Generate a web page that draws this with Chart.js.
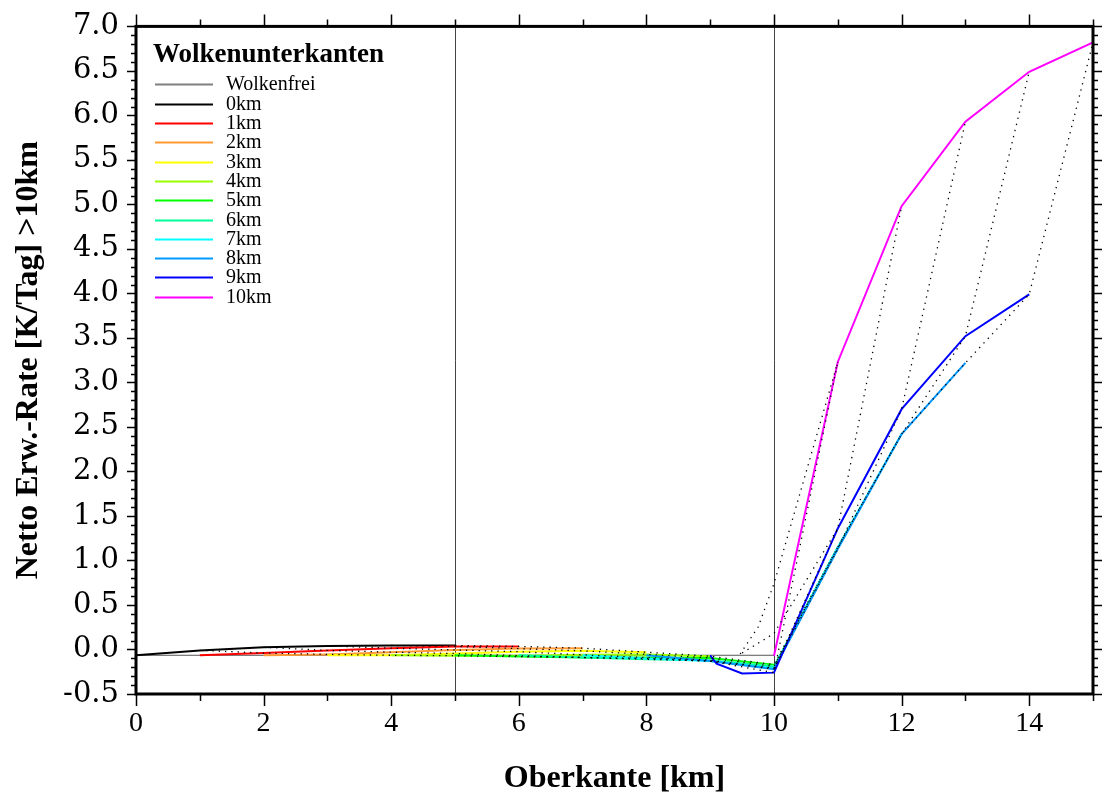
<!DOCTYPE html>
<html>
<head>
<meta charset="utf-8">
<script src="https://cdn.jsdelivr.net/npm/chart.js@4.4.1/dist/chart.umd.min.js"></script>
<style>
  html, body { margin: 0; padding: 0; background: #fff; }
</style>
</head>
<body>
<canvas id="myChart" width="1105" height="794"></canvas>
<script>
// axis ticks
const xTicks = [0, 2, 4, 6, 8, 10, 12, 14];
const yTicks = [-0.5, 0, 0.5, 1, 1.5, 2, 2.5, 3, 3.5, 4, 4.5, 5, 5.5, 6, 6.5, 7];
const refLines = [5, 10];

// Wolkenfrei (clear sky)
const clearTop = [0, 10];
const clearRate = [-0.065, -0.065];

// cloud top [km] and net heating rate per cloud base
const top0 = [0, 1, 2, 3, 4, 5];
const rate0 = [-0.065, -0.01, 0.025, 0.04, 0.045, 0.045];
const top1 = [1, 2, 3, 4, 5, 6];
const rate1 = [-0.065, -0.04, -0.01, 0.015, 0.035, 0.035];
const top2 = [2, 3, 4, 5, 6, 7];
const rate2 = [-0.065, -0.055, -0.03, -0.005, 0.01, 0.015];
const top3 = [3, 4, 5, 6, 7, 8];
const rate3 = [-0.065, -0.065, -0.045, -0.025, -0.015, -0.03];
const top4 = [4, 5, 6, 7, 8, 9];
const rate4 = [-0.065, -0.07, -0.07, -0.06, -0.055, -0.075];
const top5 = [5, 6, 7, 8, 9, 10];
const rate5 = [-0.065, -0.08, -0.09, -0.09, -0.095, -0.17];
const top6 = [6, 7, 8, 9, 10, 11];
const rate6 = [-0.065, -0.09, -0.11, -0.12, -0.19, 1.15];
const top7 = [7, 8, 9, 10, 11, 12];
const rate7 = [-0.065, -0.1, -0.13, -0.21, 1.15, 2.42];
const top8 = [8, 9, 10, 11, 12, 13];
const rate8 = [-0.065, -0.13, -0.22, 1.13, 2.42, 3.22];
const top9 = [9, 9.1, 9.5, 10, 11, 12, 13, 14];
const rate9 = [-0.065, -0.16, -0.27, -0.26, 1.36, 2.70, 3.52, 3.99];
const top10 = [10, 11, 12, 13, 14, 15];
const rate10 = [-0.07, 3.23, 4.98, 5.93, 6.49, 6.82];

// extra dotted lines near 10 km
const dotATop = [9.47, 9.75, 10, 11];
const dotARate = [-0.05, 0.25, 0.74, 3.23];
const dotBTop = [9.5, 10, 11];
const dotBRate = [-0.04, 0.18, 1.36];

const baseLabels = ['0km', '1km', '2km', '3km', '4km', '5km', '6km', '7km', '8km', '9km', '10km'];
const baseColors = ['#000000', '#ff0000', '#ff9933', '#ffff00', '#99ff00', '#00ff00',
                    '#00ff99', '#00ffff', '#0099ff', '#0000ff', '#ff00ff'];
const thickness = [1, 2, 3, 4, 5];

const tops = [top0, top1, top2, top3, top4, top5, top6, top7, top8, top9, top10];
const rates = [rate0, rate1, rate2, rate3, rate4, rate5, rate6, rate7, rate8, rate9, rate10];

const FONT = "'Liberation Serif', 'Times New Roman', serif";
const TICKFONT = "'DejaVu Serif', serif";
const pts = (xs, ys) => xs.map((x, i) => ({x: x, y: ys[i]}));

var datasets = [];

// dotted lines of equal cloud thickness, joining the points of each base
thickness.forEach(t => {
  let line = [];
  tops.forEach((xs, b) => {
    const i = xs.indexOf(b + t);
    if (i >= 0) line.push({x: xs[i], y: rates[b][i]});
  });
  datasets.push({label: '', dotted: true, data: line, borderColor: '#000',
    borderWidth: 1.3, borderDash: [1.3, 5], pointRadius: 0, order: 0});
});
[[dotATop, dotARate], [dotBTop, dotBRate]].forEach(d => {
  datasets.push({label: '', dotted: true, data: pts(d[0], d[1]), borderColor: '#000',
    borderWidth: 1.3, borderDash: [1.3, 5], pointRadius: 0, order: 0});
});

datasets.push({label: 'Wolkenfrei', data: pts(clearTop, clearRate), borderColor: '#555',
  borderWidth: 1, pointRadius: 0, order: 30});
baseLabels.forEach((lab, b) => {
  datasets.push({label: lab, data: pts(tops[b], rates[b]), borderColor: baseColors[b],
    borderWidth: 2, pointRadius: 0, order: 20 - b});
});

// frame, ticks, reference lines and legend
const gmtFrame = {
  id: 'gmtFrame',
  beforeDatasetsDraw(chart) {
    const {ctx, chartArea: a, scales: {x}} = chart;
    ctx.save();
    ctx.strokeStyle = '#444';
    ctx.lineWidth = 1;
    refLines.forEach(v => {
      const px = Math.round(x.getPixelForValue(v)) + 0.5;
      ctx.beginPath(); ctx.moveTo(px, a.top); ctx.lineTo(px, a.bottom); ctx.stroke();
    });
    ctx.restore();
  },
  afterDraw(chart) {
    const {ctx, chartArea: a, scales: {x, y}} = chart;
    ctx.save();
    ctx.strokeStyle = '#000';
    ctx.lineWidth = 1.5;
    // x ticks bottom and top
    for (let v = 0; v <= 15; v++) {
      const px = Math.round(x.getPixelForValue(v)) + 0.5;
      const len = v % 2 === 0 ? 12 : 7;
      ctx.beginPath();
      ctx.moveTo(px, a.bottom); ctx.lineTo(px, a.bottom + len);
      ctx.moveTo(px, a.top); ctx.lineTo(px, a.top - len);
      ctx.stroke();
    }
    // y ticks left and right
    for (let k = -5; k <= 70; k++) {
      const py = Math.round(y.getPixelForValue(k / 10)) + 0.5;
      const len = k % 5 === 0 ? 9 : 5;
      ctx.beginPath();
      ctx.moveTo(a.left, py); ctx.lineTo(a.left - len, py);
      ctx.moveTo(a.right, py); ctx.lineTo(a.right + len, py);
      ctx.stroke();
    }
    ctx.lineWidth = 3;
    ctx.strokeRect(a.left, a.top, a.right - a.left, a.bottom - a.top);

    // legend
    const lx = a.left + 19, ly = a.top + 58, step = 19.3;
    ctx.fillStyle = '#000';
    ctx.textBaseline = 'middle';
    ctx.font = 'bold 27px ' + FONT;
    ctx.fillText('Wolkenunterkanten', lx - 2, a.top + 29);
    ctx.font = '20px ' + FONT;
    const items = chart.data.datasets.filter(d => !d.dotted);
    items.sort((p, q) => (p.label === 'Wolkenfrei' ? -1 : 0) - (q.label === 'Wolkenfrei' ? -1 : 0));
    items.forEach((d, i) => {
      const py = Math.round(ly + i * step) + 0.5;
      ctx.strokeStyle = d.label === 'Wolkenfrei' ? '#808080' : d.borderColor;
      ctx.lineWidth = 2;
      ctx.beginPath(); ctx.moveTo(lx, py); ctx.lineTo(lx + 58, py); ctx.stroke();
      ctx.fillText(d.label, lx + 71, py);
    });
    ctx.restore();
  }
};

var config = {
  type: 'line',
  data: {datasets: datasets},
  options: {
    responsive: false,
    animation: false,
    layout: {padding: {top: 11, right: 12, left: 0, bottom: 0}},
    plugins: {legend: {display: false}, tooltip: {enabled: false}},
    scales: {
      x: {
        type: 'linear', min: 0, max: 15,
        afterBuildTicks: s => { s.ticks = xTicks.map(v => ({value: v})); },
        afterFit: s => { s.height = 100; },
        grid: {display: false}, border: {display: false},
        ticks: {color: '#000', font: {family: FONT, size: 28}, padding: 5, maxRotation: 0, autoSkip: false},
        title: {display: true, text: 'Oberkante [km]', color: '#000',
          font: {family: FONT, size: 32, weight: 'bold'}, padding: {top: 0, bottom: -4}}
      },
      y: {
        type: 'linear', min: -0.5, max: 7,
        afterBuildTicks: s => { s.ticks = yTicks.map(v => ({value: v})); },
        afterFit: s => { s.width = 136; },
        grid: {display: false}, border: {display: false},
        ticks: {color: '#000', font: {family: TICKFONT, size: 29}, padding: 9,
          callback: v => v.toFixed(1)},
        title: {display: true, text: 'Netto Erw.-Rate [K/Tag] >10km', color: '#000',
          font: {family: FONT, size: 32, weight: 'bold'}, padding: {top: 10, bottom: 0}}
      }
    }
  },
  plugins: [gmtFrame]
};

var myChart = new Chart(document.getElementById('myChart'), config);
</script>
</body>
</html>
